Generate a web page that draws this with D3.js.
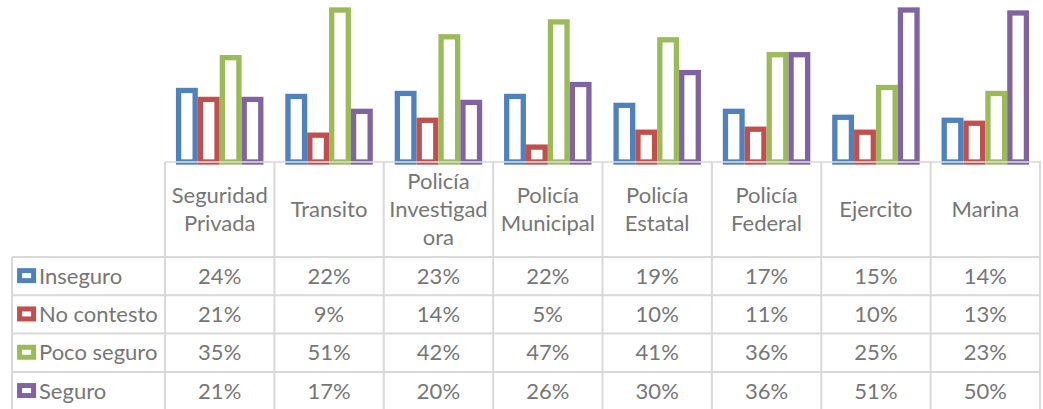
<!DOCTYPE html>
<html>
<head>
<meta charset="utf-8">
<script src="https://cdn.jsdelivr.net/npm/d3@7"></script>
<style>
  body { margin: 0; background: #fff; }
  text { font-family: Lato, "Liberation Sans", sans-serif; fill: #767676; }
</style>
</head>
<body>
<div id="chart"></div>
<script>
// Data
var categories = ["Seguridad Privada", "Transito", "Policía Investigadora", "Policía Municipal",
    "Policía Estatal", "Policía Federal", "Ejercito", "Marina"];
var headerLines = [["Seguridad", "Privada"], ["Transito"], ["Policía", "Investigad", "ora"],
    ["Policía", "Municipal"], ["Policía", "Estatal"], ["Policía", "Federal"], ["Ejercito"], ["Marina"]];
var seriesNames = ["Inseguro", "No contesto", "Poco seguro", "Seguro"];
var seriesColors = ["#4F81BD", "#C0504D", "#9BBB59", "#8064A2"];
var inseguro = [24, 22, 23, 22, 19, 17, 15, 14];
var noContesto = [21, 9, 14, 5, 10, 11, 10, 13];
var pocoSeguro = [35, 51, 42, 47, 41, 36, 25, 23];
var seguro = [21, 17, 20, 26, 30, 36, 51, 50];
var seriesValues = [inseguro, noContesto, pocoSeguro, seguro];

var svgWidth = 1043;
var svgHeight = 409;

var svg = d3.select("#chart").append("svg")
    .attr("width", svgWidth)
    .attr("height", svgHeight);

// layout
var tableLeft = 12;
var plotLeft = 165;
var plotRight = 1040;
var baseline = 162;
var headerBottom = 257;
var rowHeight = 38.3;
var gridColor = "#D9D9D9";
var strokeW = 5.3;
var fontSize = "22px";

var xScale = d3.scaleBand()
    .domain(categories)
    .range([plotLeft, plotRight])
    .padding(0);

var xInner = d3.scaleBand()
    .domain(seriesNames)
    .range([0, xScale.bandwidth()])
    .paddingInner(0)
    .paddingOuter(0.5);

var yScale = d3.scaleLinear()
    .domain([0, 51])
    .range([baseline, 10]);

// bars
var barData = [];
seriesNames.forEach((s, si) => {
    categories.forEach((c, ci) => {
        barData.push({ series: s, cat: c, value: seriesValues[si][ci], color: seriesColors[si] });
    });
});

svg.append("g").selectAll("rect")
    .data(barData)
    .enter()
    .append("rect")
    .attr("x", d => xScale(d.cat) + xInner(d.series) + strokeW / 2)
    .attr("width", xInner.bandwidth() - strokeW)
    .attr("y", d => yScale(d.value))
    .attr("height", d => baseline - yScale(d.value))
    .attr("fill", "#fff")
    .attr("stroke", d => d.color)
    .attr("stroke-width", strokeW);

// data table grid
var grid = svg.append("g")
    .attr("stroke", gridColor)
    .attr("stroke-width", 2)
    .attr("fill", "none");

// top line (axis)
grid.append("line")
    .attr("x1", plotLeft).attr("x2", plotRight + 1)
    .attr("y1", baseline).attr("y2", baseline)
    .attr("stroke-opacity", 0.8);

// horizontal row lines
d3.range(5).forEach(i => {
    var y = headerBottom + i * rowHeight;
    grid.append("line")
        .attr("x1", tableLeft).attr("x2", plotRight + 1)
        .attr("y1", y).attr("y2", y);
});

// vertical lines
xScale.domain().concat(["end"]).forEach((c, i) => {
    var x = plotLeft + i * xScale.bandwidth();
    grid.append("line")
        .attr("x1", x).attr("x2", x)
        .attr("y1", baseline).attr("y2", svgHeight + 5);
});
grid.append("line")
    .attr("x1", tableLeft).attr("x2", tableLeft)
    .attr("y1", headerBottom).attr("y2", svgHeight + 5);

// header labels
var lineH = 28;
var headerMid = (baseline + headerBottom) / 2;
categories.forEach((c, i) => {
    var lines = headerLines[i];
    var t = svg.append("text")
        .attr("text-anchor", "middle")
        .style("font-size", fontSize);
    lines.forEach((ln, j) => {
        t.append("tspan")
            .attr("x", xScale(c) + xScale.bandwidth() / 2)
            .attr("y", headerMid + (j - (lines.length - 1) / 2) * lineH + 7.5)
            .text(ln);
    });
});

// rows
seriesNames.forEach((s, si) => {
    var yMid = headerBottom + (si + 0.5) * rowHeight;

    // legend key
    svg.append("rect")
        .attr("x", 19.6)
        .attr("y", yMid - 5.5)
        .attr("width", 14)
        .attr("height", 10)
        .attr("fill", "#fff")
        .attr("stroke", seriesColors[si])
        .attr("stroke-width", 5);

    svg.append("text")
        .attr("x", 39)
        .attr("y", yMid + 7.5)
        .style("font-size", fontSize)
        .text(s);

    categories.forEach((c, ci) => {
        svg.append("text")
            .attr("x", xScale(c) + xScale.bandwidth() / 2)
            .attr("y", yMid + 7.5)
            .attr("text-anchor", "middle")
            .style("font-size", fontSize)
            .text(seriesValues[si][ci] + "%");
    });
});
</script>
</body>
</html>
